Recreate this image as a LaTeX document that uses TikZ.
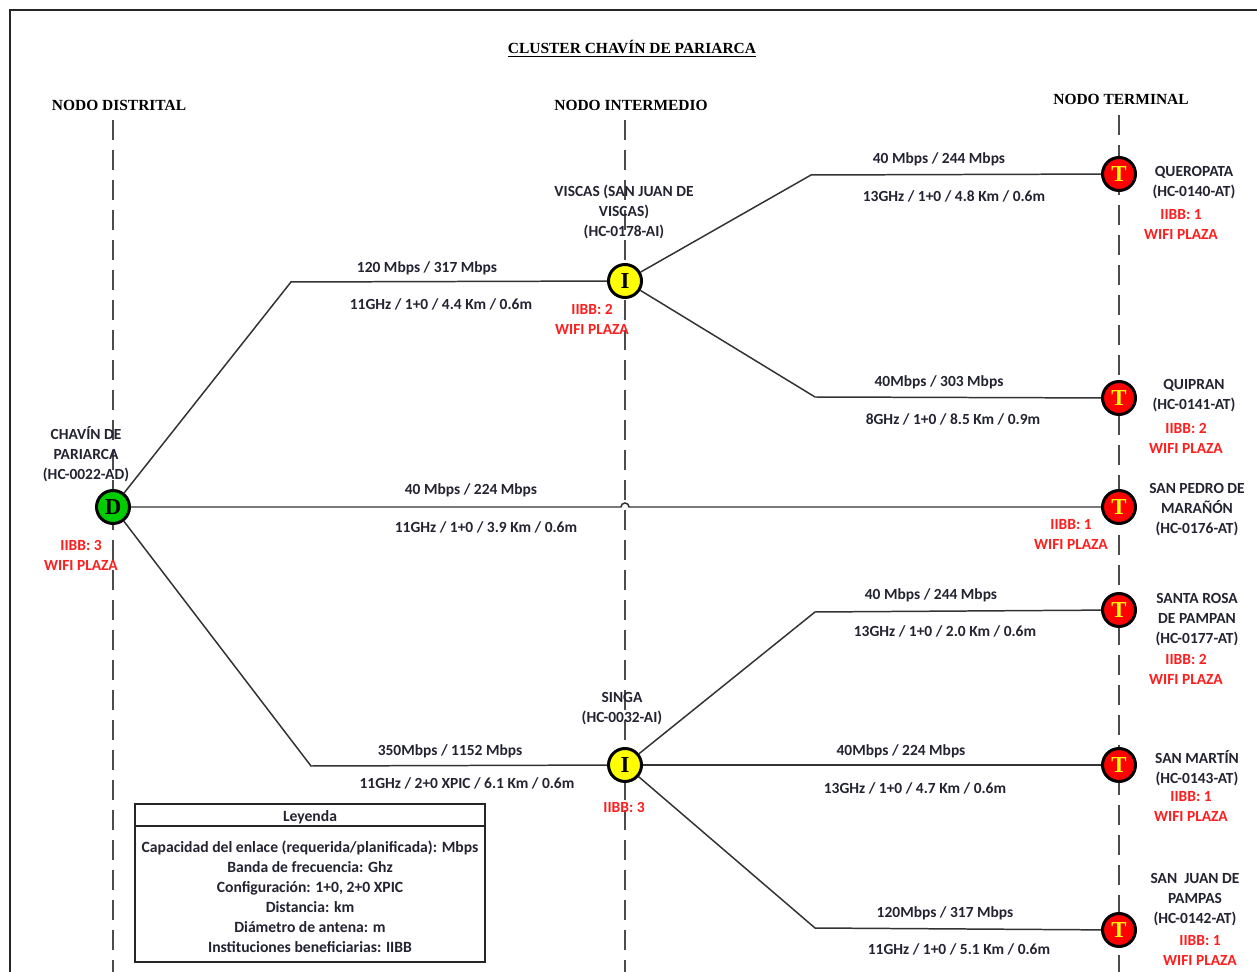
\documentclass[tikz,border=0pt]{standalone}
\usepackage{fontspec}
\setmainfont{Carlito}
\newfontfamily\tnr{Liberation Serif}
\usetikzlibrary{calc}
\definecolor{lbl}{RGB}{35,35,50}
\definecolor{rd}{RGB}{255,30,30}
\definecolor{gn}{RGB}{0,204,0}
\definecolor{ye}{RGB}{255,255,0}
\tikzset{
 lab/.style={font=\fontsize{8.8}{11.4}\selectfont\bfseries, text=lbl, align=center, inner sep=0pt, yshift=-0.035cm},
 redlab/.style={lab, text=rd},
 legtext/.style={font=\fontsize{8.9}{11.4}\selectfont\bfseries, text=lbl, align=center, inner sep=0pt, yshift=-0.02cm},
 head/.style={font=\tnr\fontsize{8.8}{10}\selectfont\bfseries, text=black, inner sep=0pt, yshift=-0.035cm},
 nd/.style={circle, draw=black, line width=1.7pt, minimum size=0.66cm, inner sep=0pt, font=\tnr\fontsize{13}{13}\selectfont\bfseries},
 dnode/.style={nd, fill=gn},
 inode/.style={nd, fill=ye},
 tnode/.style={nd, fill=red, text=ye},
 link/.style={draw=black!80, line width=0.85pt},
 guide/.style={draw=black!70, line width=0.6pt, dash pattern=on 0.4cm off 0.2cm},
 frame/.style={draw=black!85, line width=1.3pt},
}
\begin{document}
\begin{tikzpicture}[x=0.02cm,y=-0.02cm]
\useasboundingbox (0,0) rectangle (1257,972);
\draw[frame] (10,972) -- (10,10) -- (1257,10);

% titles
\node[head] (title) at (632,47) {\underline{CLUSTER CHAVÍN DE PARIARCA}};
\node[head] (hd) at (119,104) {NODO DISTRITAL};
\node[head] (hi) at (631,104) {NODO INTERMEDIO};
\node[head] (ht) at (1121,98) {NODO TERMINAL};

% guides
\coordinate (gd1) at (113,120); \coordinate (gd2) at (113,972);
\coordinate (gi1) at (625,120); \coordinate (gi2) at (625,972);
\coordinate (gt1) at (1119,115); \coordinate (gt2) at (1119,972);
\draw[guide] (gd1) -- (gd2);
\draw[guide] (gi1) -- (gi2);
\draw[guide] (gt1) -- (gt2);

% bend coordinates
\coordinate (b1) at (291,282);
\coordinate (b2) at (311,766);
\coordinate (b3) at (811,175);
\coordinate (b4) at (815,397);
\coordinate (b5) at (815,612);
\coordinate (b6) at (815,928);
\coordinate (hop) at (625,507);

% nodes
\node[dnode] (D) at (113,507) {D};
\node[inode] (I1) at (625,281) {I};
\node[inode] (I2) at (625,765) {I};
\node[tnode] (T1) at (1119,174) {T};
\node[tnode] (T2) at (1119,398) {T};
\node[tnode] (T3) at (1119,507) {T};
\node[tnode] (T4) at (1119,610) {T};
\node[tnode] (T5) at (1119,765) {T};
\node[tnode] (T6) at (1119,930) {T};

% links
\draw[link] (D) -- (b1) -- (I1);
\draw[link] (D) -- (b2) -- (I2);
\draw[link] (D) -- ($(hop)+(-4,0)$) arc[start angle=180, end angle=0, radius=0.08cm] -- (T3);
\draw[link] (I1) -- (b3) -- (T1);
\draw[link] (I1) -- (b4) -- (T2);
\draw[link] (I2) -- (b5) -- (T4);
\draw[link] (I2) -- (T5);
\draw[link] (I2) -- (b6) -- (T6);

% link labels
\node[lab] (c1) at (427,267) {120 Mbps / 317 Mbps};
\node[lab] (p1) at (441,303) {11GHz / 1+0 / 4.4 Km / 0.6m};
\node[lab] (c2) at (471,489) {40 Mbps / 224 Mbps};
\node[lab] (p2) at (486,526) {11GHz / 1+0 / 3.9 Km / 0.6m};
\node[lab] (c3) at (450,750) {350Mbps / 1152 Mbps};
\node[lab] (p3) at (467,782) {11GHz / 2+0 XPIC / 6.1 Km / 0.6m};
\node[lab] (c4) at (939,158) {40 Mbps / 244 Mbps};
\node[lab] (p4) at (954,195) {13GHz / 1+0 / 4.8 Km / 0.6m};
\node[lab] (c5) at (939,381) {40Mbps / 303 Mbps};
\node[lab] (p5) at (953,418) {8GHz / 1+0 / 8.5 Km / 0.9m};
\node[lab] (c6) at (931,594) {40 Mbps / 244 Mbps};
\node[lab] (p6) at (945,630) {13GHz / 1+0 / 2.0 Km / 0.6m};
\node[lab] (c7) at (901,750) {40Mbps / 224 Mbps};
\node[lab] (p7) at (915,787) {13GHz / 1+0 / 4.7 Km / 0.6m};
\node[lab] (c8) at (945,912) {120Mbps / 317 Mbps};
\node[lab] (p8) at (959,948) {11GHz / 1+0 / 5.1 Km / 0.6m};

% node labels
\node[lab] (nD) at (86,452) {CHAVÍN DE\\PARIARCA\\(HC-0022-AD)};
\node[redlab] (rD) at (81,554) {IIBB: 3\\WIFI PLAZA};
\node[lab] (nI1) at (624,210) {VISCAS (SAN JUAN DE\\VISCAS)\\(HC-0178-AI)};
\node[redlab] (rI1) at (592,318) {IIBB: 2\\WIFI PLAZA};
\node[lab] (nI2) at (622,707) {SINGA\\(HC-0032-AI)};
\node[redlab] (rI2) at (624,806) {IIBB: 3};
\node[lab] (nT1) at (1194,181) {QUEROPATA\\(HC-0140-AT)};
\node[redlab] (rT1) at (1181,223) {IIBB: 1\\WIFI PLAZA};
\node[lab] (nT2) at (1194,394) {QUIPRAN\\(HC-0141-AT)};
\node[redlab] (rT2) at (1186,437) {IIBB: 2\\WIFI PLAZA};
\node[lab] (nT3) at (1197,508) {SAN PEDRO DE\\MARAÑÓN\\(HC-0176-AT)};
\node[redlab] (rT3) at (1071,533) {IIBB: 1\\WIFI PLAZA};
\node[lab] (nT4) at (1197,618) {SANTA ROSA\\DE PAMPAN\\(HC-0177-AT)};
\node[redlab] (rT4) at (1186,668) {IIBB: 2\\WIFI PLAZA};
\node[lab] (nT5) at (1197,766) {SAN MARTÍN\\(HC-0143-AT)};
\node[redlab] (rT5) at (1191,805) {IIBB: 1\\WIFI PLAZA};
\node[lab] (nT6) at (1195,898) {SAN\ \ JUAN DE\\PAMPAS\\(HC-0142-AT)};
\node[redlab] (rT6) at (1200,949) {IIBB: 1\\WIFI PLAZA};

% legend
\draw[draw=black!85, line width=0.7pt, fill=white] (135,804) rectangle (485,962);
\draw[draw=black!85, line width=0.7pt] (135,826) -- (485,826);
\node[legtext] (leyh) at (310,816) {Leyenda};
\node[legtext] (leyb) at (310,896) {Capacidad del enlace (requerida/planificada): Mbps\\Banda de frecuencia: Ghz\\Configuración: 1+0, 2+0 XPIC\\Distancia: km\\Diámetro de antena: m\\Instituciones beneficiarias: IIBB};
\end{tikzpicture}
\end{document}
